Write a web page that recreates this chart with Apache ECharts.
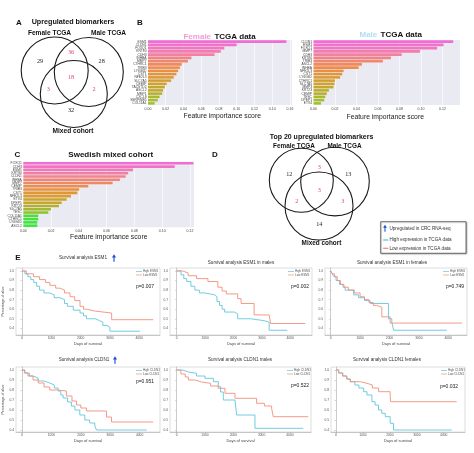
<!DOCTYPE html>
<html><head><meta charset="utf-8">
<script src="https://cdn.jsdelivr.net/npm/echarts@6/dist/echarts.min.js"></script>
<style>html,body{margin:0;padding:0;background:#fff}#c{width:474px;height:453px}</style>
</head><body><div id="c"></div>
<script>
// ---------------- DATA ----------------
const vennRegions = ['F', 'M', 'X', 'FM', 'FMX', 'FX', 'MX'];
const vennACounts = [29, 28, 32, 36, 18, 3, 2];
const vennDCounts = [12, 13, 14, 3, 3, 2, 3];

const femaleGenes = ['ESM1','CLDN1','FOXQ1','KRT80','CDH3','INHBA','MMP7','CTHRC1','TRIB3','LY6G6D','CST1','NFE2L3','SLC7A5','CEMIP','TACSTD2','ASCL2','MMP1','CXCL8','SERPINB5','COL11A1'];
const femaleScores = [0.156,0.100,0.086,0.082,0.075,0.049,0.045,0.038,0.036,0.034,0.032,0.029,0.026,0.021,0.019,0.017,0.016,0.013,0.011,0.0075];
const maleGenes = ['CLDN1','ESM1','FOXQ1','MMP7','CDH3','KRT80','TRIB3','ASCL2','INHBA','NFE2L3','CST1','LY6G6D','CTHRC1','SLC7A5','MMP3','KRT23','CEMIP','TESC','DPEP1','ETV4'];
const maleScores = [0.130,0.121,0.115,0.099,0.082,0.072,0.0645,0.045,0.042,0.028,0.0267,0.0248,0.020,0.0195,0.0186,0.0143,0.0124,0.011,0.010,0.007];
const swedishGenes = ['FOXQ1','CDH3','ESM1','KRT80','CLDN1','INHBA','MMP7','CEMIP','TRIB3','CST1','NFE2L3','ETV4','DPEP1','KRT23','SLC7A5','TESC','COL11A1','CTHRC1','LY6G6D','ASCL2'];
const swedishScores = [0.1225,0.109,0.079,0.0755,0.0737,0.0696,0.0643,0.0468,0.0403,0.0389,0.0343,0.0312,0.0276,0.0257,0.0199,0.018,0.0108,0.0108,0.0101,0.0101];

const dayTicks = [0, 1000, 2000, 3000, 4000];
const survTicks = [0.4, 0.5, 0.6, 0.7, 0.8, 0.9, 1.0];

// Kaplan-Meier curves: [days, survival]
const esm1AllHigh = [[0,1],[100,0.97],[200,0.94],[300,0.91],[400,0.88],[500,0.84],[600,0.80],[750,0.77],[950,0.75],[1100,0.72],[1300,0.70],[1450,0.66],[1550,0.63],[1750,0.59],[1980,0.56],[2100,0.53],[2200,0.50],[2500,0.48],[2650,0.465],[2760,0.43],[2900,0.41],[3000,0.37],[4030,0.37]];
const esm1AllLow = [[0,1],[150,0.97],[390,0.94],[600,0.91],[800,0.88],[950,0.85],[1150,0.82],[1300,0.80],[1450,0.77],[1640,0.73],[1800,0.69],[1980,0.63],[2100,0.60],[2200,0.58],[2500,0.56],[3060,0.49],[4480,0.49]];
const esm1MaleHigh = [[0,1],[150,0.96],[250,0.92],[350,0.89],[500,0.84],[640,0.80],[800,0.77],[990,0.75],[1340,0.73],[1420,0.68],[1510,0.64],[1600,0.60],[1690,0.57],[2035,0.55],[2150,0.50],[2600,0.48],[3080,0.465],[3260,0.38],[3900,0.38]];
const esm1MaleLow = [[0,1],[200,0.98],[400,0.95],[700,0.92],[1100,0.89],[1450,0.83],[1600,0.79],[1750,0.76],[2150,0.71],[2270,0.66],[2730,0.54],[3260,0.54],[3310,0.45],[4535,0.45]];
const esm1FemaleHigh = [[0,1],[50,0.97],[110,0.94],[180,0.90],[300,0.86],[420,0.83],[490,0.80],[780,0.75],[950,0.72],[1150,0.69],[1341,0.66],[1966,0.50],[2080,0.465],[2140,0.38],[3955,0.38]];
const esm1FemaleLow = [[0,1],[60,0.97],[130,0.94],[220,0.90],[330,0.86],[450,0.83],[600,0.80],[800,0.77],[1000,0.73],[1150,0.70],[1300,0.67],[1450,0.64],[1560,0.62],[1740,0.52],[2023,0.455],[4466,0.455]];
const cldn1AllHigh = [[0,1],[100,0.97],[250,0.94],[375,0.92],[550,0.89],[750,0.87],[943,0.85],[1100,0.82],[1227,0.79],[1320,0.75],[1398,0.72],[1550,0.68],[1682,0.64],[1800,0.60],[1966,0.55],[2136,0.50],[2300,0.47],[2477,0.44],[2534,0.40],[4239,0.40]];
const cldn1AllLow = [[0,1],[80,0.97],[200,0.94],[375,0.90],[550,0.87],[750,0.83],[943,0.80],[1200,0.79],[1511,0.74],[1700,0.69],[1852,0.65],[2000,0.62],[2193,0.59],[2875,0.53],[3045,0.48],[4466,0.48]];
const cldn1MaleHigh = [[0,1],[200,0.98],[412,0.967],[700,0.94],[1000,0.917],[1294,0.883],[1470,0.833],[1550,0.78],[1647,0.70],[2059,0.683],[2118,0.55],[2765,0.417],[4470,0.417]];
const cldn1MaleLow = [[0,1],[150,0.96],[300,0.93],[412,0.90],[650,0.88],[882,0.867],[1200,0.84],[1470,0.817],[1706,0.767],[2059,0.717],[2824,0.667],[3100,0.64],[3353,0.617],[3412,0.533],[4647,0.533]];
const cldn1FemaleHigh = [[0,1],[100,0.97],[250,0.94],[400,0.91],[530,0.883],[700,0.85],[850,0.82],[1025,0.783],[1150,0.75],[1333,0.683],[1450,0.65],[1580,0.60],[1700,0.567],[1827,0.533],[2012,0.467],[2136,0.40],[4296,0.40]];
const cldn1FemaleLow = [[0,1],[100,0.97],[250,0.94],[400,0.91],[530,0.883],[901,0.867],[1148,0.85],[1350,0.82],[1580,0.783],[2012,0.733],[2030,0.683],[4481,0.683]];

const kmTitles = ['Survival analysis ESM1','Survival analysis ESM1 in males','Survival analysis ESM1 in females','Survival analysis CLDN1','Survival analysis CLDN1 males','Survival analysis CLDN1 females'];
const kmPValues = ['p=0.007','p=0.002','p=0.749','p=0.951','p=0.522','p=0.032'];
const kmGenes = ['ESM1','ESM1','ESM1','CLDN1','CLDN1','CLDN1'];

// ---------------- STYLE / LAYOUT ----------------
const SANS = '"Liberation Sans", Arial, sans-serif';
const SERIF = '"Liberation Serif", "Times New Roman", serif';
const HIGH = '#62c6dc', LOW = '#f2907a', UPBLUE = '#1f4fd6', VPINK = '#e0407a';

function hex(c){return [parseInt(c.slice(1,3),16),parseInt(c.slice(3,5),16),parseInt(c.slice(5,7),16)];}
function rampColor(stops, t){
  for(let i=1;i<stops.length;i++){
    if(t<=stops[i][0]){
      const a=stops[i-1], b=stops[i]; const f=(t-a[0])/(b[0]-a[0]);
      const ca=hex(a[1]), cb=hex(b[1]);
      return 'rgb('+ca.map((v,k)=>Math.round(v+(cb[k]-v)*f)).join(',')+')';
    }
  }
  return stops[stops.length-1][1];
}
const rampTCGA = [[0,'#f26cd6'],[0.2,'#f27fa6'],[0.33,'#f08868'],[0.48,'#ea903e'],[0.68,'#cfa22c'],[0.84,'#b6b02c'],[1,'#9cc430']];
const rampSwe = [[0,'#f26cd6'],[0.15,'#f27fa6'],[0.3,'#f08868'],[0.42,'#ea903e'],[0.55,'#d6a02c'],[0.68,'#b8ae2c'],[0.78,'#98c032'],[0.85,'#48e03a'],[1,'#3ae83a']];

const barGrids = [
  {left:148, top:40, width:144, height:65, max:0.1623, genes:femaleGenes, vals:femaleScores, ramp:rampTCGA},
  {left:313.5, top:40, width:146.5, height:65, max:0.1363, genes:maleGenes, vals:maleScores, ramp:rampTCGA},
  {left:23.3, top:161.7, width:170.7, height:65.6, max:0.1229, genes:swedishGenes, vals:swedishScores, ramp:rampSwe}
];
const kmGrids = [
  {left:16, top:268, width:144, height:67, xmin:-205, xmax:4710, ymin:0.33, ymax:1.031, hi:esm1AllHigh, lo:esm1AllLow, ylab:true, ptx:145, pty:287, ttx:83, tty:258, arrow:true},
  {left:170, top:268, width:142, height:67, xmin:-237, xmax:4770, ymin:0.33, ymax:1.031, hi:esm1MaleHigh, lo:esm1MaleLow, ylab:false, ptx:300, pty:287, ttx:241, tty:263},
  {left:325, top:268, width:142, height:67, xmin:-195, xmax:4640, ymin:0.33, ymax:1.031, hi:esm1FemaleHigh, lo:esm1FemaleLow, ylab:false, ptx:455, pty:287, ttx:392, tty:263},
  {left:16, top:367, width:144, height:65, xmin:-204, xmax:4694, ymin:0.38, ymax:1.03, hi:cldn1AllHigh, lo:cldn1AllLow, ylab:true, ptx:145, pty:382, ttx:84, tty:360, arrow:true},
  {left:170, top:367, width:141, height:65, xmin:-237, xmax:4745, ymin:0.38, ymax:1.03, hi:cldn1MaleHigh, lo:cldn1MaleLow, ylab:false, ptx:300, pty:386, ttx:240, tty:360},
  {left:331, top:367, width:134, height:65, xmin:-185, xmax:4789, ymin:0.38, ymax:1.03, hi:cldn1FemaleHigh, lo:cldn1FemaleLow, ylab:false, ptx:449, pty:387, ttx:387, tty:360}
];

const grid=[], xAxis=[], yAxis=[], series=[];
barGrids.forEach((g,i)=>{
  grid.push({left:g.left, top:g.top, width:g.width, height:g.height, show:true, backgroundColor:'#eaeaf2', borderWidth:0});
  xAxis.push({type:'value', gridIndex:i, min:0, max:g.max, interval:0.02,
    axisLine:{show:false}, axisTick:{show:false},
    axisLabel:{fontSize:3.5, color:'#444', margin:2, showMaxLabel:false, formatter:v=>v.toFixed(2), fontFamily:SANS},
    splitLine:{show:true, lineStyle:{color:'#ffffff', width:0.6}}});
  yAxis.push({type:'category', gridIndex:i, data:g.genes, inverse:true,
    axisLine:{show:false}, axisTick:{show:false},
    axisLabel:{fontSize:3.3, color:'#444', margin:1.5, interval:0, fontFamily:SANS}});
  series.push({type:'bar', xAxisIndex:i, yAxisIndex:i, barCategoryGap:'22%',
    data:g.vals.map((v,k)=>({value:v, itemStyle:{color:rampColor(g.ramp, k/(g.vals.length-1))}}))});
});
kmGrids.forEach((g,j)=>{
  const i = j+3;
  grid.push({left:g.left, top:g.top, width:g.width, height:g.height, show:true, borderColor:'#c8c8c8', borderWidth:0.6, backgroundColor:'#fff'});
  xAxis.push({type:'value', gridIndex:i, min:g.xmin, max:g.xmax,
    name:'Days of survival', nameLocation:'middle', nameGap:7, nameTextStyle:{fontSize:4, color:'#444', fontFamily:SANS},
    axisLine:{show:true, lineStyle:{color:'#aaa', width:0.6}},
    axisTick:{show:true, customValues:dayTicks, length:1.5, lineStyle:{color:'#aaa', width:0.5}},
    axisLabel:{customValues:dayTicks, fontSize:3.3, color:'#555', margin:2, formatter:v=>String(Math.round(v)), fontFamily:SANS},
    splitLine:{show:false}});
  yAxis.push({type:'value', gridIndex:i, min:g.ymin, max:g.ymax,
    name:g.ylab?'Percentage of alive':'', nameLocation:'middle', nameGap:9, nameTextStyle:{fontSize:3.5, color:'#444', fontFamily:SANS},
    axisLine:{show:true, lineStyle:{color:'#aaa', width:0.6}},
    axisTick:{show:true, customValues:survTicks, length:1.5, lineStyle:{color:'#aaa', width:0.5}},
    axisLabel:{customValues:survTicks, fontSize:3.3, color:'#555', margin:2, formatter:v=>v.toFixed(1), fontFamily:SANS},
    splitLine:{show:false}});
  series.push({type:'line', step:'end', xAxisIndex:i, yAxisIndex:i, data:g.hi, showSymbol:false, silent:true, lineStyle:{color:HIGH, width:0.9}});
  series.push({type:'line', step:'end', xAxisIndex:i, yAxisIndex:i, data:g.lo, showSymbol:false, silent:true, lineStyle:{color:LOW, width:0.9}});
});

// ---------------- GRAPHICS ----------------
const G = [];
function txt(x,y,t,font,fill,align,extra){G.push(Object.assign({type:'text', x:x, y:y, style:{text:t, font:font, fill:fill||'#111', textAlign:align||'center', textVerticalAlign:'middle'}, silent:true}, extra||{}));}
function circ(cx,cy,r){G.push({type:'circle', shape:{cx:cx, cy:cy, r:r}, style:{fill:'none', stroke:'#1a1a1a', lineWidth:1.1}, silent:true});}
function upArrow(cx,cy,h){
  const w=h*0.55;
  G.push({type:'polygon', shape:{points:[[cx,cy-h/2],[cx+w/2,cy-h/2+h*0.42],[cx+w*0.14,cy-h/2+h*0.42],[cx+w*0.14,cy+h/2],[cx-w*0.14,cy+h/2],[cx-w*0.14,cy-h/2+h*0.42],[cx-w/2,cy-h/2+h*0.42]]}, style:{fill:UPBLUE}, silent:true});
}
function venn(pos, counts, circles){
  circles.forEach(c=>circ(c[0],c[1],c[2]));
  vennRegions.forEach((r,k)=>{
    const p=pos[r]; const overlap=r.length>1;
    txt(p[0],p[1],String(counts[k]),'6.2px '+SERIF, overlap?VPINK:'#222');
  });
}
// Panel letters
txt(19,22.5,'A','bold 8px '+SANS,'#111');
txt(140,22.5,'B','bold 8px '+SANS,'#111');
txt(17.5,155,'C','bold 8px '+SANS,'#111');
txt(215,155,'D','bold 8px '+SANS,'#111');
txt(18,258,'E','bold 8px '+SANS,'#111');
// Panel A venn
txt(73,22.5,'Upregulated biomarkers','bold 7.2px '+SANS);
txt(49.5,33.5,'Female TCGA','bold 6.6px '+SANS);
txt(108.5,33.5,'Male TCGA','bold 6.6px '+SANS);
txt(73,131,'Mixed cohort','bold 6.6px '+SANS);
venn({F:[40,61.7], M:[101.7,61.7], X:[71,110], FM:[71,52.7], FMX:[71,77.3], FX:[48.3,89.3], MX:[94,89.3]}, vennACounts,
  [[54.7,70.5,33.5],[88.8,72,34.5],[73.8,94,33.5]]);
// Panel D venn
txt(321.5,136.7,'Top 20 upregulated biomarkers','bold 7px '+SANS);
txt(294,146,'Female TCGA','bold 6.4px '+SANS);
txt(344.5,146,'Male TCGA','bold 6.4px '+SANS);
txt(321.5,243.3,'Mixed cohort','bold 6.4px '+SANS);
venn({F:[289.3,174.3], M:[348.3,174.3], X:[319.3,224.3], FM:[319.3,167.3], FMX:[319.3,190], FX:[296.7,201.7], MX:[342.7,201.7]}, vennDCounts,
  [[301.3,180.3,32],[335,181.6,34.3],[319,206,34]]);
// Legend box D
G.push({type:'rect', shape:{x:380.7, y:221.7, width:85.3, height:31.6}, style:{fill:'#fff', stroke:'#555', lineWidth:0.8, shadowBlur:1.5, shadowColor:'rgba(0,0,0,0.3)', shadowOffsetX:0.5, shadowOffsetY:0.5}, silent:true});
upArrow(385,228.3,7);
txt(389.5,228.3,'Upregulated in CRC RNA-seq','4.6px '+SANS,'#333','left');
G.push({type:'line', shape:{x1:383.2, y1:240, x2:388.3, y2:240}, style:{stroke:HIGH, lineWidth:1.3}, silent:true});
txt(389.5,240,'High expression in TCGA data','4.6px '+SANS,'#333','left');
G.push({type:'line', shape:{x1:383.2, y1:248.3, x2:388.3, y2:248.3}, style:{stroke:LOW, lineWidth:1.3}, silent:true});
txt(389.5,248.3,'Low expression in TCGA data','4.6px '+SANS,'#333','left');
// Bar chart titles and axis names
txt(183.5,116,'Feature importance score','6.8px '+SANS,'#222','left');
txt(346.5,117,'Feature importance score','6.8px '+SANS,'#222','left');
txt(70,236.7,'Feature importance score','6.8px '+SANS,'#222','left');
G.push({type:'text', x:219.6, y:36.7, style:{text:'{f|Female} {b|TCGA data}', textAlign:'center', textVerticalAlign:'middle',
  rich:{f:{font:'bold 8px '+SANS, fill:'#f59ad8'}, b:{font:'bold 8px '+SANS, fill:'#111'}}}, silent:true});
G.push({type:'text', x:390.7, y:35, style:{text:'{m|Male} {b|TCGA data}', textAlign:'center', textVerticalAlign:'middle',
  rich:{m:{font:'bold 8px '+SANS, fill:'#b3dcf0'}, b:{font:'bold 8px '+SANS, fill:'#111'}}}, silent:true});
txt(110.8,155,'Swedish mixed cohort','bold 8px '+SANS);
// KM titles, p-values, legends
kmGrids.forEach((g,j)=>{
  txt(g.ttx,g.tty,kmTitles[j],'4.6px '+SANS,'#333');
  if(g.arrow) upArrow(g.ttx+31,g.tty,7.5);
  txt(g.ptx,g.pty,kmPValues[j],'5px '+SANS,'#222');
  const rx=g.left+g.width;
  G.push({type:'line', shape:{x1:rx-24, y1:g.top+3.5, x2:rx-18, y2:g.top+3.5}, style:{stroke:HIGH, lineWidth:0.7}, silent:true});
  G.push({type:'line', shape:{x1:rx-24, y1:g.top+7, x2:rx-18, y2:g.top+7}, style:{stroke:LOW, lineWidth:0.7}, silent:true});
  txt(rx-17,g.top+3.5,'High '+kmGenes[j],'3px '+SANS,'#555','left');
  txt(rx-17,g.top+7,'Low '+kmGenes[j],'3px '+SANS,'#555','left');
});

const chart = echarts.init(document.getElementById('c'), null, {renderer:'canvas'});
chart.setOption({animation:false, backgroundColor:'#fff', grid, xAxis, yAxis, series, graphic:G});
</script></body></html>
